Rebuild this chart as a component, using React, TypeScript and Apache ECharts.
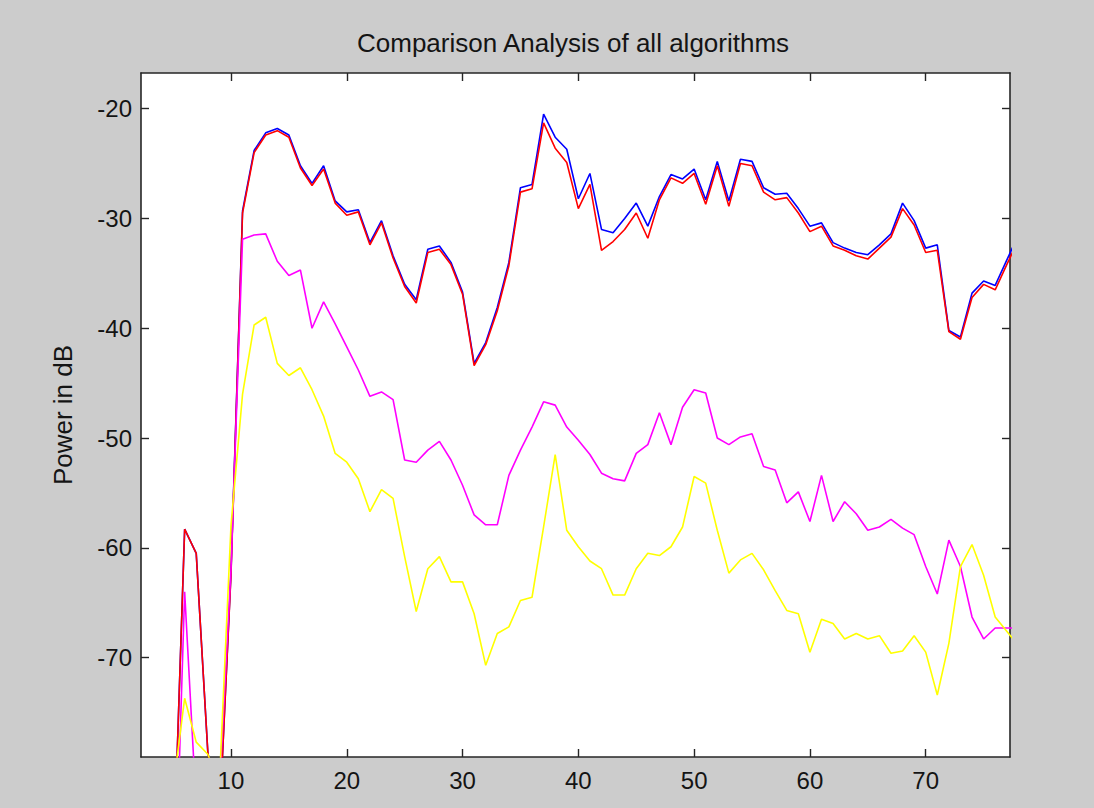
import React, { useEffect, useRef } from "react";
import * as echarts from "echarts";

// Sample positions (x) and the four curves (dB)
const xValues = [
  5, 6, 7, 8, 9, 10, 11, 12, 13, 14, 15, 16, 17, 18, 19, 20, 21, 22, 23, 24,
  25, 26, 27, 28, 29, 30, 31, 32, 33, 34, 35, 36, 37, 38, 39, 40, 41, 42, 43, 44,
  45, 46, 47, 48, 49, 50, 51, 52, 53, 54, 55, 56, 57, 58, 59, 60, 61, 62, 63, 64,
  65, 66, 67, 68, 69, 70, 71, 72, 73, 74, 75, 76, 77, 78,
];

const blueSeries = [
  -90.0, -58.3, -60.5, -78.6, -85.0, -62.3, -29.3, -23.8, -22.2, -21.8,
  -22.4, -25.2, -26.8, -25.2, -28.4, -29.4, -29.2, -32.2, -30.2, -33.4,
  -36.0, -37.4, -32.8, -32.5, -34.0, -36.7, -43.2, -41.3, -38.1, -34.0,
  -27.2, -26.9, -20.5, -22.6, -23.7, -28.2, -25.9, -31.0, -31.3, -30.0,
  -28.6, -30.7, -28.0, -26.0, -26.4, -25.5, -28.3, -24.8, -28.4, -24.6,
  -24.8, -27.2, -27.8, -27.7, -29.1, -30.7, -30.4, -32.2, -32.7, -33.1,
  -33.3, -32.4, -31.4, -28.6, -30.2, -32.7, -32.4, -40.2, -40.8, -36.8,
  -35.7, -36.1, -33.8, -31.5,
];

const redSeries = [
  -90.0, -58.3, -60.5, -78.6, -85.0, -62.5, -29.5, -24.0, -22.4, -22.0,
  -22.6, -25.4, -27.0, -25.5, -28.6, -29.7, -29.4, -32.4, -30.4, -33.6,
  -36.2, -37.7, -33.1, -32.8, -34.2, -36.9, -43.4, -41.5, -38.4, -34.3,
  -27.6, -27.3, -21.3, -23.6, -24.9, -29.1, -26.9, -32.9, -32.1, -31.0,
  -29.5, -31.8, -28.3, -26.3, -26.8, -25.9, -28.7, -25.2, -28.9, -25.0,
  -25.2, -27.6, -28.3, -28.1, -29.5, -31.2, -30.7, -32.5, -32.9, -33.4,
  -33.7, -32.7, -31.7, -29.1, -30.6, -33.1, -32.9, -40.3, -41.0, -37.2,
  -36.0, -36.5, -34.2, -32.0,
];

const magentaSeries = [
  -98.0, -64.0, -83.6, -90.0, -82.0, -62.0, -31.9, -31.5, -31.4, -33.9,
  -35.2, -34.7, -40.0, -37.6, -39.6, -41.7, -43.8, -46.2, -45.8, -46.5,
  -52.0, -52.2, -51.1, -50.3, -52.0, -54.3, -57.0, -57.9, -57.9, -53.4,
  -51.1, -49.0, -46.7, -47.0, -49.0, -50.2, -51.5, -53.2, -53.7, -53.9,
  -51.4, -50.6, -47.7, -50.6, -47.2, -45.6, -45.9, -50.0, -50.6, -49.9,
  -49.6, -52.6, -52.9, -55.9, -54.9, -57.6, -53.4, -57.6, -55.8, -56.9,
  -58.4, -58.1, -57.4, -58.2, -58.8, -61.7, -64.2, -59.3, -61.7, -66.3,
  -68.3, -67.3, -67.3, -67.3,
];

const yellowSeries = [
  -82.0, -73.7, -77.7, -78.8, -81.5, -58.0, -46.0, -39.7, -39.0, -43.2,
  -44.3, -43.6, -45.6, -48.0, -51.4, -52.2, -53.7, -56.7, -54.7, -55.5,
  -60.8, -65.8, -61.9, -60.8, -63.1, -63.1, -66.0, -70.7, -67.8, -67.2,
  -64.8, -64.5, -58.1, -51.5, -58.4, -59.9, -61.2, -61.9, -64.3, -64.3,
  -61.9, -60.5, -60.7, -59.9, -58.1, -53.5, -54.1, -58.4, -62.3, -61.1,
  -60.5, -62.0, -63.9, -65.7, -66.0, -69.5, -66.5, -66.9, -68.3, -67.8,
  -68.3, -68.0, -69.6, -69.4, -68.0, -69.5, -73.4, -68.7, -61.7, -59.7,
  -62.5, -66.3, -67.6, -68.9,
];

const xTicks = [10, 20, 30, 40, 50, 60, 70];
const yTicks = [-70, -60, -50, -40, -30, -20];
const xRange = [2.23, 77.28];
const yRange = [-79.05, -16.75];

const titleText = "Comparison Analysis of all algorithms";
const yName = "Power in dB";

const FONT = '"Liberation Sans", Arial, Helvetica, sans-serif';
const INK = "#141414";
const FRAME = "#262626";

function pairs(values: number[]) {
  return xValues.map((x, i) => [x, values[i]]);
}

export default function App() {
  const ref = useRef<HTMLDivElement>(null);

  useEffect(() => {
    if (!ref.current) return;
    const chart = echarts.init(ref.current, null, { renderer: "svg" });

    const frameLine = { show: true, lineStyle: { color: FRAME, width: 1.6 } };
    const innerTick = (vals: number[]) => ({
      show: true,
      inside: true,
      length: 8,
      customValues: vals,
      lineStyle: { color: FRAME, width: 1.4 },
    });

    const lineSeries = (name: string, values: number[], color: string) => ({
      name,
      type: "line",
      data: pairs(values),
      showSymbol: false,
      symbol: "none",
      clip: true,
      silent: true,
      lineStyle: { color, width: 1.6 },
      itemStyle: { color },
    });

    chart.setOption({
      animation: false,
      backgroundColor: "#cccccc",
      title: {
        text: titleText,
        left: 357,
        top: 30,
        padding: 0,
        textStyle: {
          fontFamily: FONT,
          fontSize: 26,
          fontWeight: "normal",
          color: INK,
        },
      },
      grid: {
        left: 141,
        right: 84,
        top: 73,
        bottom: 51,
        show: true,
        backgroundColor: "#ffffff",
        borderWidth: 0,
        containLabel: false,
        outerBoundsMode: "none",
      },
      xAxis: [
        {
          type: "value",
          position: "bottom",
          min: xRange[0],
          max: xRange[1],
          axisLine: frameLine,
          axisTick: innerTick(xTicks),
          axisLabel: {
            customValues: xTicks,
            margin: 11,
            fontFamily: FONT,
            fontSize: 24,
            color: INK,
          },
          splitLine: { show: false },
        },
        {
          type: "value",
          position: "top",
          min: xRange[0],
          max: xRange[1],
          axisLine: frameLine,
          axisTick: innerTick(xTicks),
          axisLabel: { show: false, customValues: xTicks },
          splitLine: { show: false },
        },
      ],
      yAxis: [
        {
          type: "value",
          position: "left",
          min: yRange[0],
          max: yRange[1],
          name: yName,
          nameLocation: "middle",
          nameGap: 65,
          nameTextStyle: {
            fontFamily: FONT,
            fontSize: 26,
            color: INK,
          },
          axisLine: frameLine,
          axisTick: innerTick(yTicks),
          axisLabel: {
            customValues: yTicks,
            margin: 9,
            fontFamily: FONT,
            fontSize: 24,
            color: INK,
          },
          splitLine: { show: false },
        },
        {
          type: "value",
          position: "right",
          min: yRange[0],
          max: yRange[1],
          axisLine: frameLine,
          axisTick: innerTick(yTicks),
          axisLabel: { show: false, customValues: yTicks },
          splitLine: { show: false },
        },
      ],
      series: [
        lineSeries("Algorithm 1", blueSeries, "#0000ff"),
        lineSeries("Algorithm 2", redSeries, "#ff0000"),
        lineSeries("Algorithm 3", magentaSeries, "#ff00ff"),
        lineSeries("Algorithm 4", yellowSeries, "#ffff00"),
      ],
    });

    return () => {
      chart.dispose();
    };
  }, []);

  return (
    <div
      ref={ref}
      style={{
        position: "fixed",
        left: 0,
        top: 0,
        width: 1094,
        height: 808,
        background: "#cccccc",
      }}
    />
  );
}
